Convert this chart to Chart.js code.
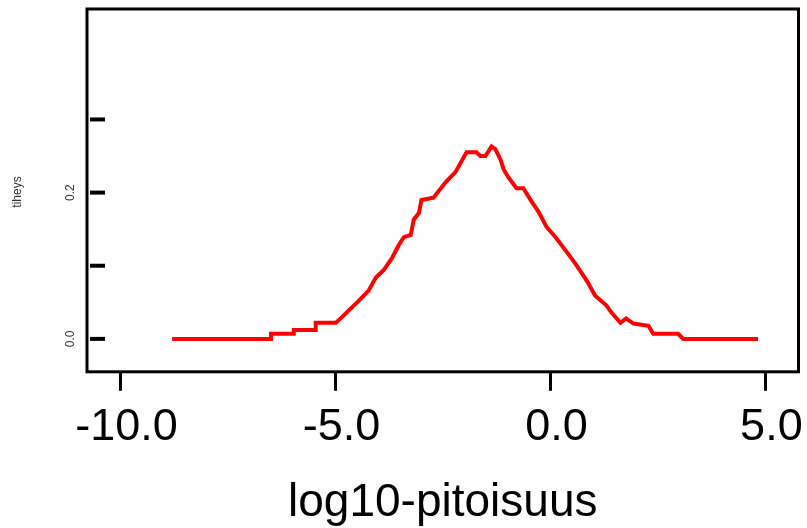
<!DOCTYPE html>
<html>
<head>
<meta charset="utf-8">
<script src="https://cdn.jsdelivr.net/npm/chart.js@4.4.1/dist/chart.umd.min.js"></script>
<style>
  html, body { margin: 0; padding: 0; background: #fff; }
  #wrap { width: 807px; height: 528px; }
</style>
</head>
<body>
<div id="wrap"><canvas id="densityChart" width="807" height="528"></canvas></div>
<script>
// density curve
const logConc = [-8.80, -6.50, -6.50, -5.97, -5.97, -5.46, -5.46, -4.99, -4.88, -4.69, -4.46, -4.23,
  -4.06, -3.88, -3.69, -3.53, -3.41, -3.25, -3.18, -3.06, -3.00, -2.72, -2.44, -2.21, -1.95,
  -1.72, -1.63, -1.51, -1.37, -1.28, -1.16, -1.09, -0.98, -0.79, -0.63, -0.44, -0.28, -0.09,
  0.12, 0.35, 0.58, 0.84, 1.04, 1.30, 1.42, 1.63, 1.76, 1.93, 2.28, 2.39, 2.97, 3.09, 4.83];
const density = [0, 0, 0.007, 0.007, 0.012, 0.012, 0.022, 0.022, 0.028, 0.039, 0.052, 0.066,
  0.084, 0.094, 0.110, 0.128, 0.139, 0.142, 0.163, 0.172, 0.190, 0.193, 0.214, 0.228, 0.255,
  0.255, 0.250, 0.250, 0.263, 0.259, 0.245, 0.232, 0.221, 0.206, 0.206, 0.188, 0.174, 0.153,
  0.139, 0.121, 0.103, 0.080, 0.059, 0.046, 0.036, 0.022, 0.028, 0.021, 0.018, 0.007, 0.007, 0, 0];

const xTicks = [-10, -5, 0, 5];
const yTicks = [0, 0.1, 0.2, 0.3];
const yLabelled = [0, 0.2];

const points = logConc.map((x, i) => ({ x: x, y: density[i] }));

// R-style box, inner y ticks and rotated y labels
const rAxes = {
  id: 'rAxes',
  afterDraw(chart) {
    const ctx = chart.ctx;
    const a = chart.chartArea;
    const ys = chart.scales.y;
    ctx.save();
    ctx.strokeStyle = '#000';
    ctx.lineWidth = 3;
    ctx.strokeRect(a.left, a.top, a.right - a.left, a.bottom - a.top);
    ctx.lineWidth = 4;
    yTicks.forEach(v => {
      const py = ys.getPixelForValue(v);
      ctx.beginPath();
      ctx.moveTo(a.left + 3, py);
      ctx.lineTo(a.left + 18, py);
      ctx.stroke();
    });
    ctx.fillStyle = '#333';
    ctx.font = '12px "Liberation Sans", Arial, sans-serif';
    ctx.textAlign = 'center';
    ctx.textBaseline = 'middle';
    yLabelled.forEach(v => {
      const py = ys.getPixelForValue(v);
      ctx.save();
      ctx.translate(71, py);
      ctx.rotate(-Math.PI / 2);
      ctx.fillText(v.toFixed(1), 0, 0);
      ctx.restore();
    });
    ctx.save();
    ctx.translate(18, 192);
    ctx.rotate(-Math.PI / 2);
    ctx.fillText('tiheys', 0, 0);
    ctx.restore();
    ctx.restore();
  }
};

const chart = new Chart(document.getElementById('densityChart'), {
  type: 'scatter',
  data: {
    datasets: [{
      data: points,
      showLine: true,
      borderColor: '#ff0000',
      backgroundColor: '#ff0000',
      borderWidth: 4,
      pointRadius: 0,
      tension: 0
    }]
  },
  options: {
    responsive: false,
    devicePixelRatio: 1,
    animation: false,
    layout: { padding: { left: 87, top: 9, right: 7, bottom: -3 } },
    plugins: { legend: { display: false }, tooltip: { enabled: false } },
    scales: {
      x: {
        type: 'linear',
        min: -10.78,
        max: 5.77,
        afterBuildTicks: s => { s.ticks = xTicks.map(v => ({ value: v })); },
        border: { display: false },
        grid: {
          drawOnChartArea: false,
          drawTicks: true,
          tickLength: 19,
          tickWidth: 3,
          tickColor: '#000'
        },
        ticks: {
          color: '#000',
          padding: 10,
          labelOffset: 6,
          maxRotation: 0,
          font: { family: '"Liberation Sans", Arial, sans-serif', size: 45 },
          callback: v => v.toFixed(1)
        },
        title: {
          display: true,
          text: 'log10-pitoisuus',
          color: '#000',
          padding: { top: 11, bottom: 0 },
          font: { family: '"Liberation Sans", Arial, sans-serif', size: 46 }
        }
      },
      y: {
        display: false,
        min: -0.045,
        max: 0.451
      }
    }
  },
  plugins: [rAxes]
});
</script>
</body>
</html>
